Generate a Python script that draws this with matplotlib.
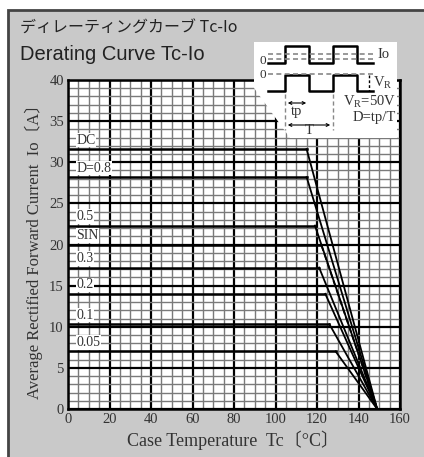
import matplotlib.pyplot as plt
from matplotlib.patches import Rectangle, Polygon

# デレーティングカーブ Tc-Io
labels = ["DC", "D=0.8", "0.5", "SIN", "0.3", "0.2", "0.1", "0.05"]
io_flat = [31.6, 28.2, 22.3, 20.0, 17.2, 14.0, 10.3, 7.0]
tc_knee = [115, 115, 119, 122, 121, 124, 126, 129]
tc_zero = 149
styles = ["-", "-", "-", "--", "-", "-", "-", "-"]

x_ticks = list(range(0, 161, 20))
y_ticks = list(range(0, 41, 5))

W, H = 424, 457
fig = plt.figure(figsize=(W / 100, H / 100), dpi=100)
fig.patch.set_facecolor("white")

# gray panel with dark frame
fig.add_artist(Rectangle((8 / W, -0.05), 1.0, 1 - 10 / H + 0.05,
                         transform=fig.transFigure, facecolor="#c9c9c9",
                         edgecolor="#444444", linewidth=2.0, zorder=0))

fig.text(20 / W, 1 - 28 / H, "ディレーティングカーブ Tc-Io",
         family=["Noto Sans CJK JP", "DejaVu Sans"], fontsize=11.5,
         va="center", ha="left", color="#222222")
fig.text(20 / W, 1 - 55 / H, "Derating Curve Tc-Io",
         family=["Liberation Sans"], fontsize=14.5,
         va="center", ha="left", color="#222222")

ax = fig.add_axes([68 / W, 1 - 409 / H, 332 / W, 329 / H])
ax.set_facecolor("white")
ax.set_xlim(0, 160)
ax.set_ylim(0, 40)

serif = ["Liberation Serif", "Noto Sans CJK JP", "DejaVu Serif"]

# grid
for x in range(0, 161, 5):
    major = x % 20 == 0
    ax.axvline(x, color="black" if major else "#7a7a7a",
               lw=1.6 if major else 1.0, zorder=1)
for y in range(0, 41, 1):
    major = y % 5 == 0
    ax.axhline(y, color="black" if major else "#7a7a7a",
               lw=1.6 if major else 1.0, zorder=1)

ax.set_xticks(x_ticks)
ax.set_yticks(y_ticks)
ax.tick_params(length=0, pad=3, labelsize=10.5, labelcolor="#333333")
for t in ax.get_xticklabels() + ax.get_yticklabels():
    t.set_family(serif)
for s in ax.spines.values():
    s.set_linewidth(1.8)

ax.set_xlabel("Case Temperature  Tc〔°C〕", family=serif, fontsize=13,
              color="#333333")
ax.set_ylabel("Average Rectified Forward Current  Io〔A〕", family=serif,
              fontsize=12, color="#333333")
ax.xaxis.set_label_coords(0.497, -0.064)
ax.yaxis.set_label_coords(-0.075, 0.49)

for lab, io, knee, ls in zip(labels, io_flat, tc_knee, styles):
    ax.plot([0, knee], [io, io], color="black", lw=1.8, zorder=3)
    ax.plot([knee, tc_zero], [io, 0], color="black", lw=1.3, ls=ls, zorder=3)
    ax.text(4, io + 1.1, lab, family=serif, fontsize=10, va="center",
            ha="left", color="#333333", zorder=4,
            bbox=dict(facecolor="white", edgecolor="none", pad=0.5))

# inset waveform diagram (pixel-like coordinates)
ins = fig.add_axes([250 / W, 1 - 145 / H, 150 / W, 110 / H])
ins.set_xlim(250, 400)
ins.set_ylim(145, 35)
ins.axis("off")
ins.add_patch(Polygon([(254, 42), (397, 42), (397, 138), (290, 138),
                       (254, 88)], closed=True, facecolor="white",
                      edgecolor="none"))
# current waveform
ins.plot([268, 285, 285, 309, 309, 333, 333, 357, 357, 373],
         [62.5, 62.5, 45.5, 45.5, 62.5, 62.5, 45.5, 45.5, 62.5, 62.5],
         color="black", lw=1.8)
ins.plot([268, 373], [54, 54], color="#888888", lw=1.2, ls=(0, (3, 2)))
ins.plot([268, 373], [58.5, 58.5], color="#888888", lw=1.2, ls=(0, (3, 2)))
# voltage waveform
ins.plot([268, 285, 285, 309, 309, 333, 333, 357, 357, 373],
         [90.5, 90.5, 75, 75, 90.5, 90.5, 75, 75, 90.5, 90.5],
         color="black", lw=1.8)
ins.plot([268, 373], [74, 74], color="#888888", lw=1.2, ls=(0, (3, 2)))
ins.plot([369, 369], [75, 90.5], color="black", lw=1.0, ls=(0, (2, 1.5)))
ins.plot([285, 285], [94, 130], color="#888888", lw=1.0, ls=(0, (3, 2)))
ins.plot([333, 333], [94, 130], color="#888888", lw=1.0, ls=(0, (3, 2)))
ins.annotate("", xy=(285, 103), xytext=(309, 103),
             arrowprops=dict(arrowstyle="<->", lw=0.8, mutation_scale=5))
ins.annotate("", xy=(285, 125), xytext=(333, 125),
             arrowprops=dict(arrowstyle="<->", lw=0.8, mutation_scale=5))
kw = dict(family=serif, fontsize=10.5, color="#333333", va="center")
ins.text(263, 60.5, "0", ha="center", fontsize=9.5, family=serif,
         color="#333333", va="center")
ins.text(263, 74.5, "0", ha="center", fontsize=9.5, family=serif,
         color="#333333", va="center")
ins.text(377, 54, "Io", ha="left", **kw)
ins.text(373, 83, "V$_\\mathregular{R}$", ha="left", **kw)
ins.text(297, 112, "tp", ha="center", **kw)
ins.text(309, 131, "T", ha="center", **kw)
ins.text(396, 102, "V$_\\mathregular{R}$=50V", ha="right", **kw)
ins.text(396, 117, "D=tp/T", ha="right", **kw)

fig.savefig("out.png", dpi=100)
